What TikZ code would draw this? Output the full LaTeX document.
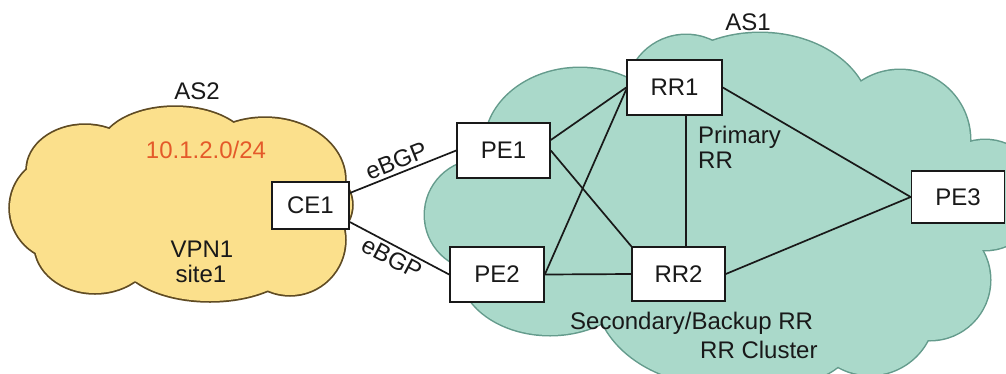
\documentclass[tikz,border=0pt]{standalone}
\usepackage{fontspec}
\setmainfont{Liberation Sans}
\definecolor{yfill}{RGB}{251,224,140}
\definecolor{yedge}{RGB}{95,75,35}
\definecolor{tfill}{RGB}{170,217,202}
\definecolor{tedge}{RGB}{100,155,140}
\definecolor{orangetxt}{RGB}{228,90,42}
\definecolor{ink}{RGB}{25,25,25}
\newcommand\fsz{\fontsize{24}{28}\selectfont}
\tikzset{
  box/.style={draw=ink, line width=1.6pt, fill=white, inner sep=0pt, font=\fsz, text=ink},
  link/.style={draw=ink, line width=1.7pt},
  lbl/.style={font=\fsz, text=ink, inner sep=0pt},
  elbl/.style={font=\fsz, text=ink, inner sep=3pt},
}
\begin{document}
\begin{tikzpicture}[x=1pt,y=-1pt]
\useasboundingbox (0,0) rectangle (1006,373);
% ---- AS2 cloud (yellow)
\foreach \cx/\cy/\rx/\ry in {62/208/52/52, 85/170/58/45, 175/150/75/43, 265/180/80/62, 305/205/47/40, 290/240/55/55, 210/255/90/46, 95/245/60/48}
  \draw[yedge, line width=3.5pt] (\cx,\cy) ellipse[x radius=\rx pt, y radius=\ry pt];
\foreach \cx/\cy/\rx/\ry in {62/208/52/52, 85/170/58/45, 175/150/75/43, 265/180/80/62, 305/205/47/40, 290/240/55/55, 210/255/90/46, 95/245/60/48, 180/205/150/80}
  \fill[yfill] (\cx,\cy) ellipse[x radius=\rx pt, y radius=\ry pt];
% ---- AS1 cloud (teal)
\foreach \cx/\cy/\rx/\ry in {580/145/95/77, 686/95/60/60, 760/115/110/82, 900/140/70/70, 985/195/55/55, 930/280/60/60, 870/310/65/65, 800/320/60/60, 720/290/125/95, 550/270/90/65, 480/215/55/55}
  \draw[tedge, line width=3pt] (\cx,\cy) ellipse[x radius=\rx pt, y radius=\ry pt];
\foreach \cx/\cy/\rx/\ry in {580/145/95/77, 686/95/60/60, 760/115/110/82, 900/140/70/70, 985/195/55/55, 930/280/60/60, 870/310/65/65, 800/320/60/60, 720/290/125/95, 550/270/90/65, 480/215/55/55, 720/200/240/120}
  \fill[tfill] (\cx,\cy) ellipse[x radius=\rx pt, y radius=\ry pt];
% ---- labels
\node[lbl] (as2) at (197,91) {AS2};
\node[lbl, text=orangetxt] (net) at (206,150) {10.1.2.0/24};
\node[lbl] (vpn) at (202,249) {VPN1};
\node[lbl] (site) at (201,274) {site1};
\node[lbl] (as1) at (748,22) {AS1};
\node[lbl, anchor=base west] (prim) at (698,143) {Primary};
\node[lbl, anchor=base west] (primrr) at (698,168) {RR};
\node[lbl, anchor=base west] (sec) at (570,329) {Secondary/Backup RR};
\node[lbl, anchor=base west] (clu) at (700,358) {RR Cluster};
% ---- routers
\node[box, minimum width=77pt, minimum height=47pt] (ce1) at (310.5,205.5) {CE1};
\node[box, minimum width=93pt, minimum height=55pt] (pe1) at (503.5,150.5) {PE1};
\node[box, minimum width=94pt, minimum height=55pt] (pe2) at (497,274.5) {PE2};
\node[box, minimum width=95pt, minimum height=55pt] (rr1) at (674.5,87.5) {RR1};
\node[box, minimum width=93pt, minimum height=54pt] (rr2) at (678.5,274) {RR2};
\node[box, minimum width=93pt, minimum height=52pt] (pe3) at (958,197) {PE3};
% ---- connectors
\draw[link] ([yshift=12.5pt]ce1.east) -- node[elbl, sloped, above, pos=0.48] (eb1) {eBGP} (pe1.west);
\draw[link] ([yshift=-16.5pt]ce1.east) -- node[elbl, sloped, below, pos=0.48] (eb2) {eBGP} (pe2.west);
\draw[link] ([yshift=10.5pt]pe1.east) -- (rr1.west);
\draw[link] (pe1.east) -- (rr2.north west);
\draw[link] (pe2.east) -- ([yshift=-2pt]rr1.west);
\draw[link] (pe2.east) -- (rr2.west);
\draw[link] ([xshift=11.5pt]rr1.south) -- ([xshift=11.5pt]rr1.south |- rr2.north);
\draw[link] (rr1.east) -- (pe3.west);
\draw[link] (rr2.east) -- (pe3.west);
\end{tikzpicture}
\end{document}
